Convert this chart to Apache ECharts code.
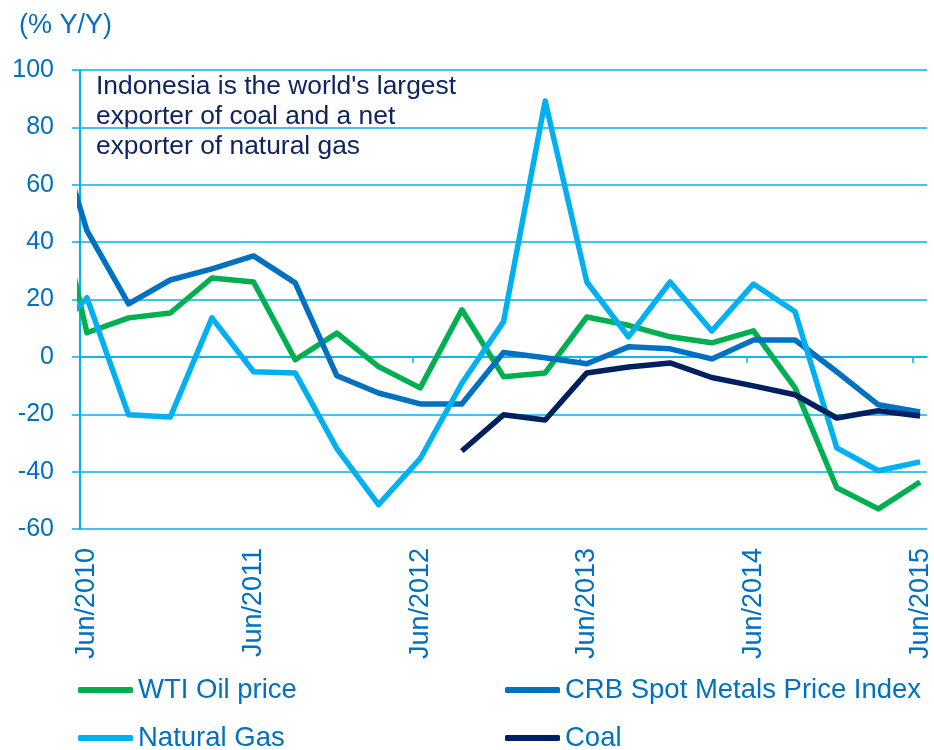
<!DOCTYPE html>
<html>
<head>
<meta charset="utf-8">
<script src="https://cdn.jsdelivr.net/npm/echarts@6/dist/echarts.min.js"></script>
<style>html,body{margin:0;padding:0;background:#fff}#c{width:934px;height:750px}</style>
</head>
<body>
<div id="c"></div>
<script>
// Quarter-end observations (first point lies just before the visible range and is clipped)
var quarters = ['Mar/2010','Jun/2010','Sep/2010','Dec/2010','Mar/2011','Jun/2011','Sep/2011','Dec/2011',
  'Mar/2012','Jun/2012','Sep/2012','Dec/2012','Mar/2013','Jun/2013','Sep/2013','Dec/2013',
  'Mar/2014','Jun/2014','Sep/2014','Dec/2014','Mar/2015','Jun/2015'];
var wti   = [72, 8.4, 13.6, 15.3, 27.5, 26.1, -1, 8.3, -3.4, -10.8, 16.4, -6.9, -5.6, 13.9, 11, 7.0, 4.9, 9.1, -10.8, -45.6, -53, -43.6];
var crb   = [92, 44, 18.5, 26.8, 30.7, 35.2, 25.8, -6.6, -12.6, -16.4, -16.4, 1.5, -0.3, -2.4, 3.5, 2.8, -0.7, 5.9, 5.9, -5.2, -16.7, -19.2];
var gas   = [5, 20.6, -20.2, -21, 13.6, -5.2, -5.6, -32, -51.5, -35.5, -9.2, 12.2, 89.2, 26.1, 7.0, 26.1, 9.0, 25.4, 15.7, -31.7, -39.7, -36.6];
var coal  = [null, null, null, null, null, null, null, null, null, null, -32.8, -20.2, -22, -5.6, -3.5, -2.1, -7.2, -10.1, -13.2, -21.3, -18.8, -20.6];
var labelYears = [2010, 2011, 2012, 2013, 2014, 2015];
var yMin = -60, yMax = 100, yStep = 20;
var seriesNames = ['WTI Oil price', 'CRB Spot Metals Price Index', 'Natural Gas', 'Coal'];

var monthNames = {Jan:1,Feb:2,Mar:3,Apr:4,May:5,Jun:6,Jul:7,Aug:8,Sep:9,Oct:10,Nov:11,Dec:12};
// month index measured from the start of June 2010; observations plotted mid-month
function monthPos(q) {
  var p = q.split('/');
  return (parseInt(p[1], 10) - 2010) * 12 + (monthNames[p[0]] - 6) + 0.5;
}
function pairs(vals) {
  return quarters.map(function (q, i) { return [monthPos(q), vals[i]]; });
}
var tickPos = labelYears.map(function (y) { return monthPos('Jun/' + y) - 0.5; });
var labelPos = labelYears.map(function (y) { return monthPos('Jun/' + y); });

var FONT = '"Liberation Sans", Arial, sans-serif';
var grid = '#00B0F0';
var txt = '#0070C0';
var colors = ['#00B050', '#0070C0', '#00B0F0', '#002060'];

var chart = echarts.init(document.getElementById('c'), null, {renderer: 'canvas'});
var lineSeries = [wti, crb, gas, coal].map(function (vals, i) {
  return {
    name: seriesNames[i], type: 'line', data: pairs(vals), xAxisIndex: 0,
    showSymbol: false, symbol: 'none', clip: true, connectNulls: false,
    lineStyle: {width: 5.5, color: colors[i], cap: 'butt', join: 'round'},
    itemStyle: {color: colors[i]}
  };
});
var legendPos = [[78, 675], [505, 675], [78, 723], [505, 723]];
var legends = seriesNames.map(function (n, i) {
  return {
    data: [n], orient: 'horizontal', left: legendPos[i][0], top: legendPos[i][1],
    itemWidth: 55, itemHeight: 6, icon: 'roundRect', padding: 0,
    textStyle: {fontFamily: FONT, fontSize: 27.5, color: txt, lineHeight: 30}
  };
});
chart.setOption({
  animation: false,
  textStyle: {fontFamily: FONT},
  grid: {left: 80, right: 7, top: 70, bottom: 221, containLabel: false},
  title: {text: '(% Y/Y)', left: 14, top: 7,
    textStyle: {fontFamily: FONT, fontSize: 27, fontWeight: 'normal', color: txt}},
  graphic: [{
    type: 'text', left: 96, top: 72,
    style: {text: "Indonesia is the world's largest\nexporter of coal and a net\nexporter of natural gas",
      font: '26.4px ' + FONT, fill: '#0E2561', lineHeight: 30}
  }],
  legend: legends,
  xAxis: [{
    type: 'value', min: 0, max: 61, position: 'bottom',
    axisLine: {show: false, onZero: false}, axisTick: {show: false}, splitLine: {show: false},
    axisLabel: {
      show: true, customValues: labelPos, rotate: 90, margin: 19,
      fontFamily: FONT, fontSize: 27, color: txt,
      formatter: function (v) { return 'Jun/' + (2010 + Math.round((v - 0.5) / 12)); }
    }
  }, {
    type: 'value', min: 0, max: 61, position: 'bottom',
    axisLine: {show: true, onZero: true, lineStyle: {color: grid, width: 1.5}},
    axisTick: {show: true, customValues: tickPos, length: 6, inside: false, lineStyle: {color: grid, width: 1.5}},
    axisLabel: {show: false}, splitLine: {show: false}
  }],
  yAxis: {
    type: 'value', min: yMin, max: yMax, interval: yStep,
    axisLine: {show: true, onZero: false, lineStyle: {color: grid, width: 2}},
    axisTick: {show: true, length: 8, inside: false, lineStyle: {color: grid, width: 1.5}},
    splitLine: {show: true, lineStyle: {color: grid, width: 1.5}},
    axisLabel: {margin: 26, fontFamily: FONT, fontSize: 25, color: txt}
  },
  series: lineSeries
});
</script>
</body>
</html>
